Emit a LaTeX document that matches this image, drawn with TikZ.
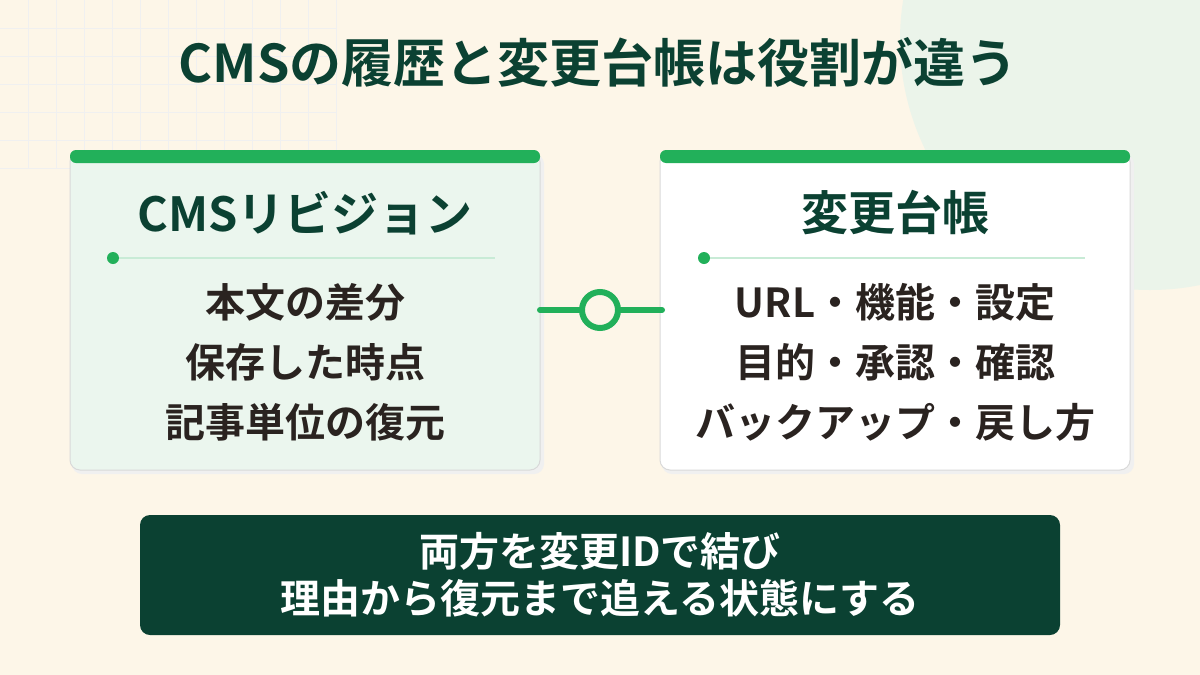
\documentclass[tikz,border=0pt]{standalone}
\usepackage{fontspec}
\setmainfont{Noto Sans CJK JP}[BoldFont={* Bold}]
\definecolor{bg}{HTML}{FDF6E8}
\definecolor{dk}{HTML}{0B4132}
\definecolor{gr}{HTML}{22B05A}
\definecolor{txt}{HTML}{2A2320}
\definecolor{lightg}{HTML}{EBF6EE}
\definecolor{blob}{HTML}{EBF4EA}
\begin{document}
\begin{tikzpicture}[x=1pt,y=-1pt,
  card/.style={rounded corners=10pt, draw=black!15, line width=1pt},
  bar/.style={fill=gr, rounded corners=6pt},
  ttl/.style={font=\bfseries\fontsize{47}{50}\selectfont, text=dk},
  body/.style={font=\bfseries\fontsize{40}{60}\selectfont, text=txt, align=center},
  sep/.style={draw=gr!25, line width=2pt},
  dot/.style={fill=gr, circle, inner sep=0pt, minimum size=12pt}]
\fill[bg] (0,0) rectangle (1200,675);
\useasboundingbox (0,0) rectangle (1200,675);
\foreach \i in {1,...,12} {\draw[black!6, line width=1pt] (28*\i,0) -- (28*\i,168);}
\foreach \j in {1,...,6} {\draw[black!6, line width=1pt] (0,28*\j) -- (336,28*\j);}
\fill[blob] (1150,40) circle (250);
% cards
\fill[black!6, rounded corners=10pt] (72,154) rectangle (544,474);
\draw[card, fill=lightg] (70,152) rectangle (540,470);
\fill[bar] (70,150) rectangle (540,163);
\fill[black!6, rounded corners=10pt] (662,154) rectangle (1134,474);
\draw[card, fill=white] (660,152) rectangle (1130,470);
\fill[bar] (660,150) rectangle (1130,163);
\node[font=\bfseries\fontsize{52}{56}\selectfont, text=dk] (title) at (598,62) {CMSの履歴と変更台帳は役割が違う};
\node[ttl] (lt) at (305,213) {CMSリビジョン};
\node[ttl] (rt) at (895,213) {変更台帳};
\node[dot] (ld) at (113,258) {};
\coordinate (le) at (495,258);
\draw[sep] (ld) -- (le);
\node[dot] (rd) at (704,258) {};
\coordinate (re) at (1085,258);
\draw[sep] (rd) -- (re);
\node[body] (lb) at (305,362) {本文の差分\\保存した時点\\記事単位の復元};
\node[body] (rb) at (895,362) {URL・機能・設定\\目的・承認・確認\\バックアップ・戻し方};
\coordinate (ca) at (540,310);
\coordinate (cb) at (662,310);
\node[circle, draw=gr, line width=6pt, minimum size=36pt, fill=bg] (cc) at (600,310) {};
\draw[gr, line width=6pt, line cap=round] (ca) -- (cc) (cc) -- (cb);
\node[fill=dk, rounded corners=10pt, minimum width=920pt, minimum height=120pt] (bot) at (600,575) {};
\node[font=\bfseries\fontsize{40}{47}\selectfont, text=white, align=center] (bt) at (600,575) {両方を変更IDで結び\\理由から復元まで追える状態にする};
\end{tikzpicture}
\end{document}
